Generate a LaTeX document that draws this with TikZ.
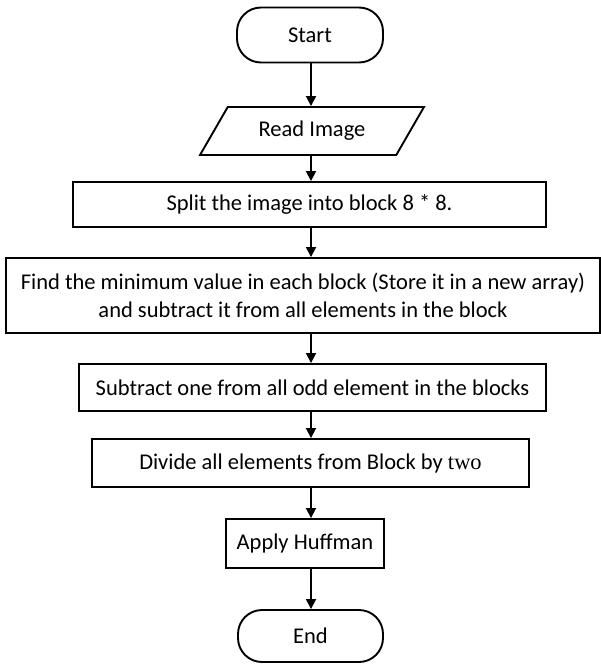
\documentclass[tikz,border=0pt]{standalone}
\usepackage{fontspec}
\setmainfont{Carlito}
\newfontfamily\serifword{Liberation Serif}
\usetikzlibrary{arrows.meta,shapes.geometric}

\begin{document}
\begin{tikzpicture}[
  x=1pt, y=-1pt,
  termblock/.style={rectangle, draw, line width=1.9pt, rounded corners=24pt, inner sep=0pt, minimum width=146pt, minimum height=55pt, font=\fontsize{22.5}{28}\selectfont},
  ioblock/.style={trapezium, trapezium left angle=48, trapezium right angle=132, trapezium stretches=true, draw, line width=1.9pt, inner sep=0pt, minimum width=224pt, minimum height=48pt, font=\fontsize{22.5}{28}\selectfont},
  procblock/.style={rectangle, draw, line width=1.9pt, inner sep=0pt, align=center, font=\fontsize{22.5}{28}\selectfont},
  line/.style={draw, line width=1.8pt, -{Triangle[length=10pt, width=10pt]}}
]
  \useasboundingbox (0,0) rectangle (601,664);

  % column of the connectors
  \coordinate (axis) at (311,0);

  % Nodes
  \node[termblock] (start) at (310,35) {Start};
  \node[ioblock] (read) at (312,131) {Read Image};
  \node[procblock, minimum width=473pt, minimum height=45pt] (split) at (309.5,204.5) {Split the image into block 8 * 8.};
  \node[procblock, minimum width=594pt, minimum height=75pt] (find) at (303,295.5) {Find the minimum value in each block (Store it in a new array)\\and subtract it from all elements in the block};
  \node[procblock, minimum width=467pt, minimum height=47pt] (sub) at (312.5,387.5) {Subtract one from all odd element in the blocks};
  \node[procblock, minimum width=437pt, minimum height=48pt] (div) at (310.5,463) {Divide all elements from Block by {\serifword two}};
  \node[procblock, minimum width=158pt, minimum height=49pt] (huff) at (305,543.5) {Apply Huffman};
  \node[termblock, minimum width=145pt, minimum height=52pt] (end) at (310.5,636) {End};

  % Connectors
  \draw[line] (start.south -| axis) -- (read.north -| axis);
  \draw[line] (read.south -| axis) -- (split.north -| axis);
  \draw[line] (split.south -| axis) -- (find.north -| axis);
  \draw[line] (find.south -| axis) -- (sub.north -| axis);
  \draw[line] (sub.south -| axis) -- (div.north -| axis);
  \draw[line] (div.south -| axis) -- (huff.north -| axis);
  \draw[line] (huff.south -| axis) -- (end.north -| axis);

\end{tikzpicture}
\end{document}
